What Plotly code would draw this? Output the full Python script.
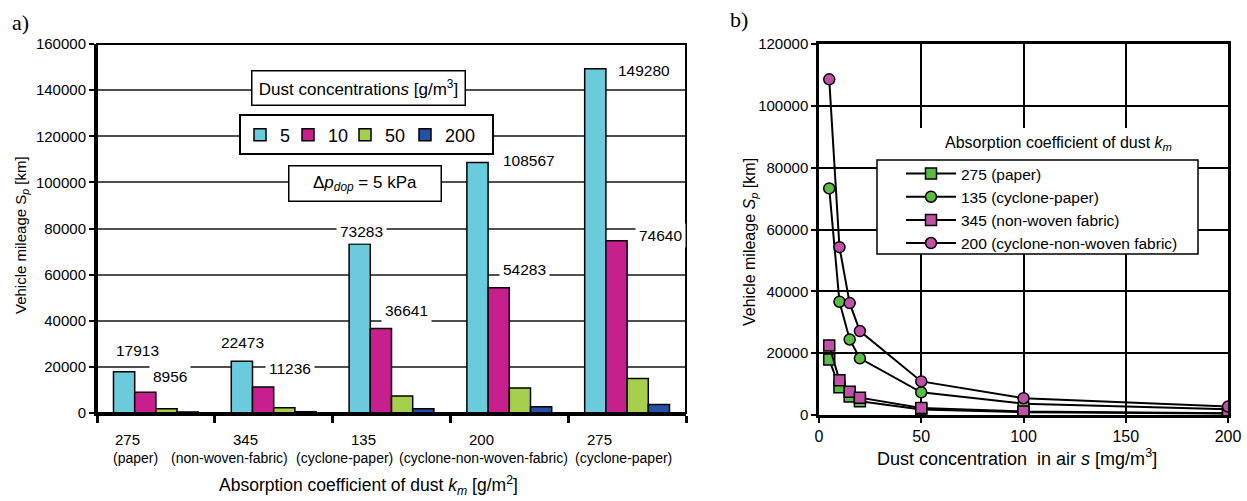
import plotly.graph_objects as go

# ---------------- data ----------------
# (a) bar chart: vehicle mileage vs absorption coefficient, per dust concentration
km_values = ["275", "345", "135", "200", "275"]
filter_types = ["(paper)", "(non-woven-fabric)", "(cyclone-paper)",
                "(cyclone-non-woven-fabric)", "(cyclone-paper)"]
conc_names = ["5", "10", "50", "200"]
S_conc5 = [17913, 22473, 73283, 108567, 149280]
S_conc10 = [8956, 11236, 36641, 54283, 74640]
S_conc50 = [1791, 2247, 7328, 10857, 14928]
S_conc200 = [448, 562, 1832, 2714, 3732]

# (b) line chart: vehicle mileage vs dust concentration in air
s_mg = [5, 10, 15, 20, 50, 100, 200]
S_275_paper = [17913, 8956, 5971, 4478, 1791, 896, 448]
S_135_cyclone_paper = [73283, 36641, 24428, 18321, 7328, 3664, 1832]
S_345_nonwoven = [22473, 11236, 7491, 5618, 2247, 1124, 562]
S_200_cyclone_nonwoven = [108567, 54283, 36189, 27142, 10857, 5428, 2714]
line_names = ["275 (paper)", "135 (cyclone-paper)", "345 (non-woven fabric)",
              "200 (cyclone-non-woven fabric)"]

# ---------------- styling ----------------
W, H = 1247, 501
FONT = "Liberation Sans, Arial, sans-serif"
SERIF = "Liberation Serif, Times New Roman, serif"
bar_colors = ["#6ACBDC", "#C71F8E", "#A6CF4E", "#2352A5"]
line_colors = ["#5CBB46", "#5CBB46", "#C050A8", "#C050A8"]
line_symbols = ["square", "circle", "square", "circle"]
bar_legend_x = [240, 288, 345, 405]   # pixel x of each bar-legend entry

# pixel geometry of panel (a)
A_LEFT, A_RIGHT = 97, 686
n_cat = len(km_values)
cat_w = (A_RIGHT - A_LEFT) / n_cat
num_cx = [A_LEFT + (i + 0.5) * cat_w - 28 for i in range(n_cat)]
type_cx = [135.6, 229.9, 344.7, 483.9, 623.0]


def fx(p):
    return p / W


def fy(p):
    return 1 - p / H


def text_at(text, x, y, size, **kw):
    d = dict(text=text, x=fx(x), y=fy(y), xref="paper", yref="paper", showarrow=False,
             xanchor="center", yanchor="middle", font=dict(size=size))
    d.update(kw)
    return d


fig = go.Figure()

x_idx = list(range(n_cat))
bar_legends = ["legend", "legend2", "legend3", "legend4"]
for name, vals, col, lg in zip(conc_names, [S_conc5, S_conc10, S_conc50, S_conc200],
                               bar_colors, bar_legends):
    fig.add_trace(go.Bar(
        x=x_idx, y=vals, name=name, xaxis="x", yaxis="y", legend=lg,
        marker=dict(color=col, line=dict(color="black", width=1.5)),
        hoverinfo="skip"))

for i, (name, vals) in enumerate(zip(line_names, [S_275_paper, S_135_cyclone_paper,
                                                  S_345_nonwoven, S_200_cyclone_nonwoven])):
    fig.add_trace(go.Scatter(
        x=s_mg, y=vals, name=name, mode="lines+markers", xaxis="x2", yaxis="y2",
        legend="legend5", legendgroup=name,
        line=dict(color="black", width=2),
        marker=dict(symbol=line_symbols[i], size=11, color=line_colors[i],
                    line=dict(color="black", width=1.5)),
        hoverinfo="skip"))

ann = []
# panel letters
ann.append(text_at("a)", 20, 22, 22, font=dict(family=SERIF, size=22)))
ann.append(text_at("b)", 739, 20, 22, font=dict(family=SERIF, size=22)))
# axis titles (a)
ann.append(text_at("Vehicle mileage S<sub><i>p</i></sub> [km]", 22, 235, 15, textangle=-90))
ann.append(text_at("Absorption coefficient of dust <i>k<sub>m</sub></i> [g/m<sup>2</sup>]",
                   368, 485, 17.5))
# category labels (a)
for k, t, cx, tx in zip(km_values, filter_types, num_cx, type_cx):
    ann.append(text_at(k, cx, 439, 15))
    ann.append(text_at(t, tx, 458, 14))
# boxes (a)
ann.append(text_at("Dust concentration<i>s</i> [g/m<sup>3</sup>]", 358, 87.5, 17,
                   bgcolor="white", bordercolor="black", borderwidth=1.5, borderpad=0,
                   width=212, height=33))
ann.append(text_at("Δ<i>p</i><sub><i>dop</i></sub> = 5 kPa", 364.5, 184, 17,
                   bgcolor="white", bordercolor="black", borderwidth=1.5, borderpad=0,
                   width=151, height=34))
# data labels (a): (series values, category index, x shift, y shift)
label_specs = [
    (S_conc5, 0, -18, 21), (S_conc10, 0, 14, 16),
    (S_conc5, 1, -31, 19), (S_conc10, 1, 16, 19),
    (S_conc5, 2, -30, 12), (S_conc10, 2, 15, 18),
    (S_conc5, 3, 20, 2), (S_conc10, 3, 15, 18),
    (S_conc5, 4, 17, -2), (S_conc10, 4, 33, 5),
]
for series, ci, xs, ys in label_specs:
    v = series[ci]
    ann.append(dict(text=str(v), x=x_idx[ci], y=v, xref="x", yref="y",
                    xanchor="center", yanchor="middle",
                    xshift=xs, yshift=ys, showarrow=False, font=dict(size=15.5),
                    bgcolor="white", borderpad=3))
# axis titles (b)
ann.append(text_at("Vehicle mileage <i>S<sub>p</sub></i> [km]", 750, 242, 16, textangle=-90))
ann.append(text_at("Dust concentration  in air <i>s</i> [mg/m<sup>3</sup>]", 1017, 457, 18))
ann.append(text_at("Absorption coefficient of dust <i>k<sub>m</sub></i>", 1058, 143, 16))

shapes = [
    # frame of (a)
    dict(type="rect", xref="paper", yref="paper", x0=fx(A_LEFT), x1=fx(A_RIGHT), y0=fy(413),
         y1=fy(44), line=dict(color="black", width=2), layer="above"),
    # legend box of (a)
    dict(type="rect", xref="paper", yref="paper", x0=fx(240), x1=fx(493), y0=fy(154),
         y1=fy(115), line=dict(color="black", width=2), fillcolor="white", layer="above"),
    # legend area of (b)
    dict(type="rect", xref="paper", yref="paper", x0=fx(877), x1=fx(1198), y0=fy(160),
         y1=fy(128), line=dict(width=0), fillcolor="white", layer="above"),
    dict(type="rect", xref="paper", yref="paper", x0=fx(877), x1=fx(1198), y0=fy(254),
         y1=fy(160), line=dict(color="black", width=1.5), fillcolor="white", layer="above"),
]

layout_legends = {}
for lg, lx in zip(bar_legends, bar_legend_x):
    layout_legends[lg] = dict(orientation="h", x=fx(lx), y=fy(135), xanchor="left",
                              yanchor="middle", bgcolor="rgba(0,0,0,0)", borderwidth=0,
                              font=dict(size=18), itemwidth=30)
layout_legends["legend5"] = dict(orientation="v", x=fx(901), y=fy(157), xanchor="left",
                                 yanchor="top", bgcolor="rgba(0,0,0,0)", borderwidth=0,
                                 font=dict(size=15.5), itemwidth=50,
                                 traceorder="grouped", tracegroupgap=0)

fig.update_layout(
    width=W, height=H, margin=dict(l=0, r=0, t=0, b=0, autoexpand=False),
    paper_bgcolor="white", plot_bgcolor="white",
    font=dict(family=FONT, size=14, color="black"),
    barmode="group", bargap=0.28, bargroupgap=0,
    showlegend=True,
    xaxis=dict(domain=[fx(A_LEFT), fx(A_RIGHT)], range=[-0.5, n_cat - 0.5], anchor="y",
               tickmode="array", tickvals=[i - 0.5 for i in range(n_cat + 1)],
               showticklabels=False, ticks="outside", ticklen=7, tickwidth=2.5,
               tickcolor="black", showline=True, linewidth=3, linecolor="black",
               showgrid=False, zeroline=False),
    yaxis=dict(domain=[fy(413), fy(44)], range=[0, 160000], dtick=20000, anchor="x",
               tickformat="d", ticks="outside", ticklen=5, tickwidth=2, tickcolor="black",
               showline=True, linewidth=3, linecolor="black", showgrid=True,
               gridcolor="#505050", gridwidth=1.5, zeroline=False,
               tickfont=dict(size=15)),
    xaxis2=dict(domain=[fx(819), fx(1228)], range=[0, 200], dtick=50, anchor="y2",
                ticks="outside", ticklen=5, tickwidth=2, tickcolor="black",
                showline=True, mirror=True, linewidth=2.5, linecolor="black",
                showgrid=True, gridcolor="black", gridwidth=2, zeroline=False,
                tickfont=dict(size=16)),
    yaxis2=dict(domain=[fy(415), fy(44)], range=[0, 120000], dtick=20000, anchor="x2",
                tickformat="d", ticks="outside", ticklen=5, tickwidth=2, tickcolor="black",
                showline=True, mirror=True, linewidth=2.5, linecolor="black",
                showgrid=True, gridcolor="black", gridwidth=2, zeroline=False,
                tickfont=dict(size=15)),
    annotations=ann,
    shapes=shapes,
    **layout_legends,
)

fig.write_html("out.html", config={"displayModeBar": False},
               post_script="document.body.style.margin='0';document.body.style.overflow='hidden';")
